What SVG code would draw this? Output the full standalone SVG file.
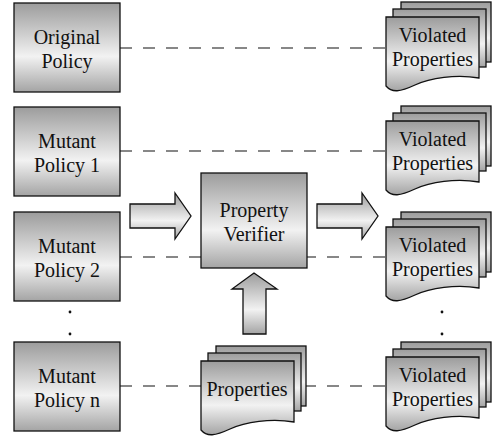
<svg xmlns="http://www.w3.org/2000/svg" xmlns:xlink="http://www.w3.org/1999/xlink" width="492" height="439" viewBox="0 0 492 439">
<style>
.sh{fill:url(#g);stroke:#111;stroke-width:1.3}
.d{stroke:#111;stroke-width:1.1;stroke-dasharray:12 11;fill:none}
</style>
<defs>
<linearGradient id="g" x1="0" y1="0" x2="0" y2="1">
<stop offset="0" stop-color="#9c9c9c"/>
<stop offset="0.6" stop-color="#f2f2f2"/>
<stop offset="1" stop-color="#a4a4a4"/>
</linearGradient>
<g id="stack">
<rect x="15" y="-15" width="90" height="60" class="sh"/>
<rect x="7" y="-8" width="93" height="58" class="sh"/>
<path d="M0,0 H93 V61 C70,57 44,61 29,68 S6,76 0,69 Z" class="sh"/>
</g>
</defs>
<g id="connectors">
<line x1="120" y1="48" x2="386" y2="48" class="d"/>
<line x1="120" y1="151" x2="386" y2="151" class="d"/>
<line x1="120" y1="257" x2="386" y2="257" class="d"/>
<line x1="120" y1="386" x2="386" y2="386" class="d"/>
<path d="M130,204 H175 V193 L191,216 L175,239 V228 H130 Z" class="sh"/>
<path d="M317,204 H362 V193 L378,216 L362,239 V228 H317 Z" class="sh"/>
<path d="M243,334 V289 H232 L254,273 L277,289 H266 V334 Z" class="sh"/>
</g>
<g font-family="Liberation Serif, Times New Roman, serif" font-size="20" fill="#111" text-anchor="middle">
<g id="original-policy">
<rect x="14" y="3" width="106" height="89" class="sh"/>
<text x="67" y="44">Original</text>
<text x="67" y="68">Policy</text>
</g>
<g id="mutant-policy-1">
<rect x="14" y="107" width="106" height="89" class="sh"/>
<text x="67" y="147.5">Mutant</text>
<text x="67" y="171.5">Policy 1</text>
</g>
<g id="mutant-policy-2">
<rect x="14" y="212" width="106" height="89" class="sh"/>
<text x="67" y="252.5">Mutant</text>
<text x="67" y="276.5">Policy 2</text>
</g>
<g id="mutant-policy-n">
<rect x="14" y="342" width="106" height="89" class="sh"/>
<text x="67" y="382.5">Mutant</text>
<text x="67" y="406.5">Policy n</text>
</g>
<g id="property-verifier">
<rect x="201" y="173" width="106" height="95" class="sh"/>
<text x="254" y="216.5">Property</text>
<text x="254" y="240.5">Verifier</text>
</g>
<g id="properties">
<use xlink:href="#stack" transform="translate(201,361)"/>
<text x="247" y="396">Properties</text>
</g>
<g id="violated-1">
<use xlink:href="#stack" transform="translate(386,17)"/>
<text x="432.5" y="42">Violated</text>
<text x="432.5" y="66">Properties</text>
</g>
<g id="violated-2">
<use xlink:href="#stack" transform="translate(386,121)"/>
<text x="432.5" y="146">Violated</text>
<text x="432.5" y="170">Properties</text>
</g>
<g id="violated-3">
<use xlink:href="#stack" transform="translate(386,227)"/>
<text x="432.5" y="252">Violated</text>
<text x="432.5" y="276">Properties</text>
</g>
<g id="violated-n">
<use xlink:href="#stack" transform="translate(386,357)"/>
<text x="432.5" y="382">Violated</text>
<text x="432.5" y="406">Properties</text>
</g>
</g>
<g id="ellipsis" fill="#111">
<circle cx="70" cy="312" r="1.4"/>
<circle cx="70" cy="334" r="1.4"/>
<circle cx="442" cy="312" r="1.4"/>
<circle cx="442" cy="334" r="1.4"/>
</g>
</svg>
